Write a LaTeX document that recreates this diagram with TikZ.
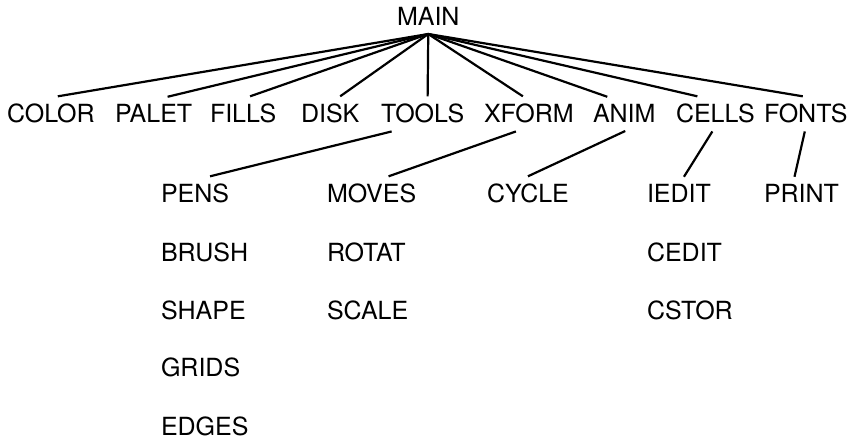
\documentclass[tikz,border=0pt]{standalone}
\usepackage{fontspec}
\setmainfont{TeX Gyre Heros}
\begin{document}
\begin{tikzpicture}[x=1pt,y=-1pt,font=\fontsize{25}{30}\selectfont,
  menu/.style={anchor=base west, inner sep=2pt, outer sep=6pt},
  link/.style={line width=2.2pt}]
\useasboundingbox (0,0) rectangle (859,443);
\node[menu] (main) at (389,26) {MAIN};
\node[menu] (color) at (-1,123) {COLOR};
\node[menu] (palet) at (107,123) {PALET};
\node[menu] (fills) at (202,123) {FILLS};
\node[menu] (disk) at (293,123) {DISK};
\node[menu] (tools) at (373,123) {TOOLS};
\node[menu] (xform) at (476,123) {XFORM};
\node[menu] (anim) at (585,123) {ANIM};
\node[menu] (cells) at (668,123) {CELLS};
\node[menu] (fonts) at (756,123) {FONTS};
\node[menu] (pens) at (153,203) {PENS};
\node[menu] (brush) at (153,262) {BRUSH};
\node[menu] (shape) at (153,320) {SHAPE};
\node[menu] (grids) at (153,377) {GRIDS};
\node[menu] (edges) at (153,435) {EDGES};
\node[menu] (moves) at (319,203) {MOVES};
\node[menu] (rotat) at (319,262) {ROTAT};
\node[menu] (scale) at (319,320) {SCALE};
\node[menu] (cycle) at (479,203) {CYCLE};
\node[menu] (iedit) at (639,203) {IEDIT};
\node[menu] (cedit) at (639,262) {CEDIT};
\node[menu] (cstor) at (639,320) {CSTOR};
\node[menu] (print) at (756,203) {PRINT};
% main menu
\draw[link] (main.south) -- ([xshift=7pt]color.north);
\draw[link] (main.south) -- ([xshift=14pt]palet.north);
\draw[link] (main.south) -- ([xshift=7pt]fills.north);
\draw[link] (main.south) -- ([xshift=10pt]disk.north);
\draw[link] (main.south) -- ([xshift=5pt]tools.north);
\draw[link] (main.south) -- ([xshift=-6pt]xform.north);
\draw[link] (main.south) -- ([xshift=-17pt]anim.north);
\draw[link] (main.south) -- ([xshift=-18pt]cells.north);
\draw[link] (main.south) -- ([xshift=-3pt]fonts.north);
% submenus
\draw[link] ([xshift=-31pt]tools.south) -- ([xshift=15pt]pens.north);
\draw[link] ([xshift=-13pt]xform.south) -- ([xshift=17pt]moves.north);
\draw[link] ([xshift=1pt]anim.south) -- (cycle.north);
\draw[link] ([xshift=-3pt]cells.south) -- ([xshift=5pt]iedit.north);
\draw[link] ([xshift=-1pt]fonts.south) -- ([xshift=-7pt]print.north);
\end{tikzpicture}
\end{document}
